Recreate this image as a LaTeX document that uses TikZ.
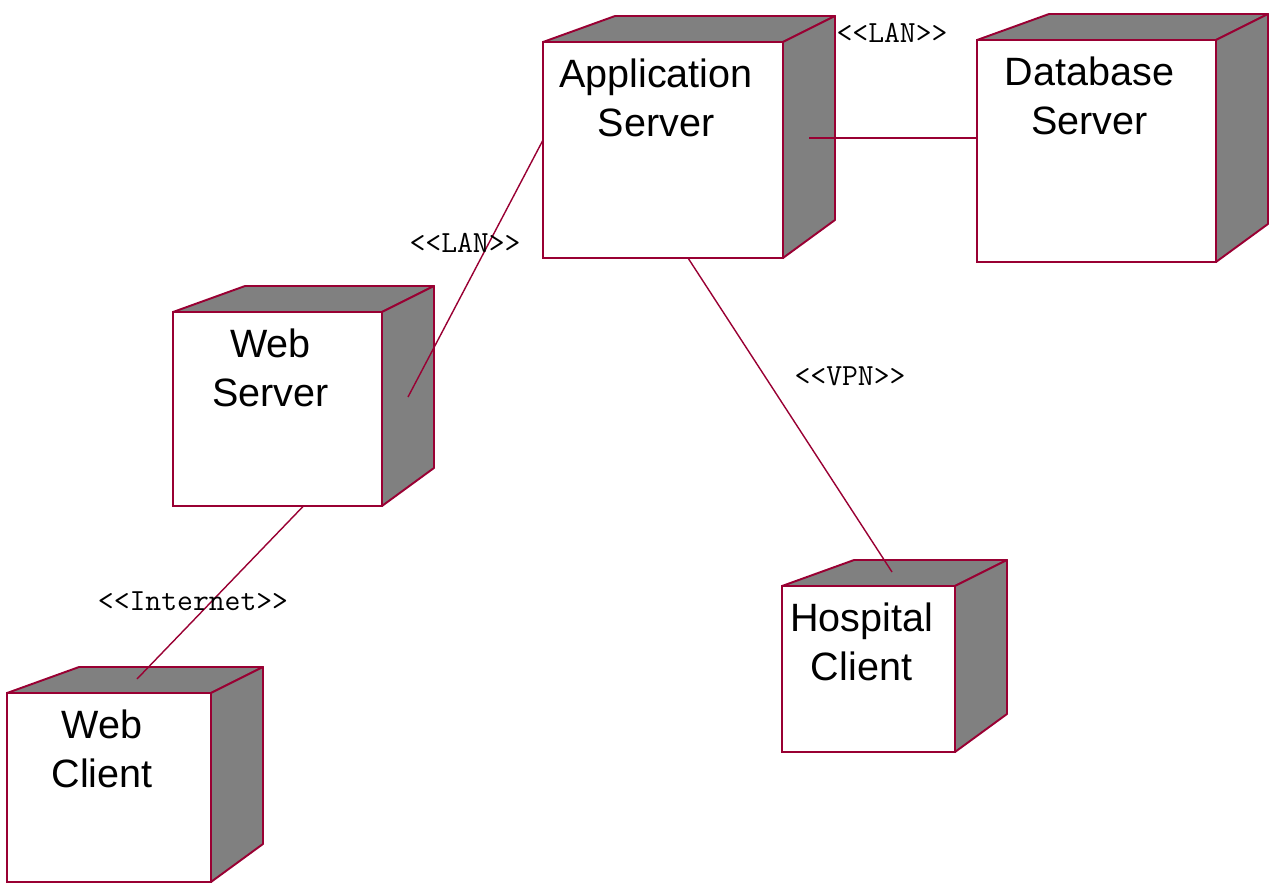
\documentclass[tikz,border=0pt]{standalone}
\usepackage{fontspec}
\newfontfamily\nodefont{Liberation Sans}
\usetikzlibrary{calc}
\definecolor{edgered}{RGB}{153,0,51}
\definecolor{boxgray}{RGB}{128,128,128}
\tikzset{
  face/.style={draw=edgered, line width=1.1pt, fill=white, outer sep=0pt, inner sep=0pt},
  side/.style={draw=edgered, line width=1.1pt, fill=boxgray, line join=round},
  link/.style={draw=edgered, line width=0.8pt},
  nodetext/.style={anchor=north, align=center, inner sep=0pt, font=\nodefont\fontsize{22.5}{28.4}\selectfont},
  stereo/.style={inner sep=0pt, font=\ttfamily\fontsize{17.5}{20}\selectfont}
}
% top and side of a deployment node
\newcommand{\nodecube}[1]{%
  \filldraw[side] (#1.north west) -- ++(72,-26) -- ($(#1.north east)+(52,-26)$) -- (#1.north east) -- cycle;
  \filldraw[side] (#1.north east) -- ++(52,-26) -- ($(#1.south east)+(52,-38)$) -- (#1.south east) -- cycle;}

\begin{document}
\begin{tikzpicture}[x=0.02cm,y=-0.02cm]
\useasboundingbox (0,0) rectangle (1284,891);
% nodes
\node[face, minimum width=4.8cm, minimum height=4.32cm] (app) at (663,150) {};
\nodecube{app}
\node[nodetext] (apptext) at ($(app.north)+(-7,16)$) {Application\\Server};
\node[face, minimum width=4.78cm, minimum height=4.44cm] (db) at (1096.5,151) {};
\nodecube{db}
\node[nodetext] (dbtext) at ($(db.north)+(-7,16)$) {Database\\Server};
\node[face, minimum width=4.18cm, minimum height=3.88cm] (web) at (277.5,409) {};
\nodecube{web}
\node[nodetext] (webtext) at ($(web.north)+(-7,16)$) {Web\\Server};
\node[face, minimum width=4.08cm, minimum height=3.78cm] (client) at (109,787.5) {};
\nodecube{client}
\node[nodetext] (clienttext) at ($(client.north)+(-7,16)$) {Web\\Client};
\node[face, minimum width=3.46cm, minimum height=3.32cm] (hosp) at (868.5,669) {};
\nodecube{hosp}
\node[nodetext] (hosptext) at ($(hosp.north)+(-7,16)$) {Hospital\\Client};
% links
\coordinate (appside) at (809,138);
\draw[link] (appside) -- (appside -| db.west);
\coordinate (webside) at (408,397);
\draw[link] ($(app.west)+(0,-10)$) -- (webside);
\coordinate (clienttop) at (137,679);
\draw[link] ($(web.south)+(26,0)$) -- (clienttop);
\coordinate (hosptop) at (892,572);
\draw[link] ($(app.south)+(25,0)$) -- (hosptop);
% stereotypes
\path (892,33) node[stereo] (lantop) {<<LAN>>};
\path (465,243) node[stereo] (lanmid) {<<LAN>>};
\path (850,376) node[stereo] (vpn) {<<VPN>>};
\path (193,601) node[stereo] (inet) {<<Internet>>};
\end{tikzpicture}
\end{document}
